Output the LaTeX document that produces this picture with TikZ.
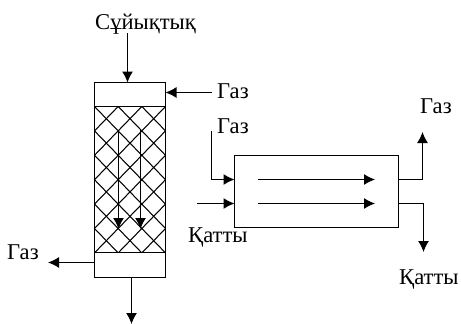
\documentclass[tikz,border=0pt]{standalone}
\usepackage{fontspec}
\setmainfont{Liberation Serif}
\usetikzlibrary{arrows.meta}
\tikzset{
  lab/.style={anchor=base west,inner sep=0pt,font=\fontsize{22.6}{24}\selectfont,text=black},
  box/.style={draw,line width=1.1pt,inner sep=0pt,outer sep=0pt,minimum width=#1},
  flow/.style={draw,line width=1.1pt,-{Latex[length=11pt,width=11pt]}},
  hatch/.style={draw,line width=1.05pt}
}
\begin{document}
\begin{tikzpicture}[x=1pt,y=-1pt]
\useasboundingbox (0,0) rectangle (461,324);
% column
\begin{scope}
\clip (94.5,106.5) rectangle (165.5,252.5);
\foreach \i in {-6,...,2}{
  \draw[hatch] ({94.5+23.67*\i},106.5) -- ({94.5+23.67*(\i+6)},252.9);
  \draw[hatch] ({165.5-23.67*\i},106.5) -- ({165.5-23.67*(\i+6)},252.9);
}
\end{scope}
\node[box=71pt,minimum height=146pt,anchor=north west] (col) at (94.5,106.5) {};
\node[box=71pt,minimum height=24pt,anchor=north west] (top) at (94.5,82.5) {};
\node[box=71pt,minimum height=25pt,anchor=north west] (bot) at (94.5,252.5) {};
% reactor
\node[box=164pt,minimum height=72pt,anchor=north west] (reac) at (234.5,155.5) {};
% labels
\node[lab] (liq) at (95,29) {Сұйықтық};
\node[lab] (g1) at (217,98) {Газ};
\node[lab] (g2) at (217,133) {Газ};
\node[lab] (g3) at (420,113) {Газ};
\node[lab] (g4) at (7,259) {Газ};
\node[lab] (k1) at (188,242) {Қатты};
\node[lab] (k2) at (399,284) {Қатты};
% free ends
\coordinate (a1) at (127.5,33);
\coordinate (a2) at (127.5,82.5);
\coordinate (b1) at (212,92.5);
\coordinate (b2) at (165.5,92.5);
\coordinate (c1) at (118.5,130);
\coordinate (c2) at (118.5,229);
\coordinate (d1) at (140.5,130);
\coordinate (d2) at (140.5,229);
\coordinate (e1) at (131.5,277.5);
\coordinate (e2) at (131.5,324);
\coordinate (f1) at (94.5,262.5);
\coordinate (f2) at (48,262.5);
\coordinate (h1) at (211.5,131);
\coordinate (h2) at (211.5,179.5);
\coordinate (h3) at (234.5,179.5);
\coordinate (i1) at (197,203.5);
\coordinate (i2) at (234.5,203.5);
\coordinate (j1) at (258,179.5);
\coordinate (j2) at (375,179.5);
\coordinate (l1) at (258,203.5);
\coordinate (l2) at (375,203.5);
\coordinate (m1) at (398.5,179.5);
\coordinate (m2) at (422.5,179.5);
\coordinate (m3) at (422.5,132);
\coordinate (n1) at (398.5,203.5);
\coordinate (n2) at (423.5,203.5);
\coordinate (n3) at (423.5,252);
% connectors
\draw[flow] (a1) -- (a2);
\draw[flow] (b1) -- (b2);
\draw[flow] (c1) -- (c2);
\draw[flow] (d1) -- (d2);
\draw[flow] (e1) -- (e2);
\draw[flow] (f1) -- (f2);
\draw[flow] (h1) -- (h2) -- (h3);
\draw[flow] (i1) -- (i2);
\draw[flow] (j1) -- (j2);
\draw[flow] (l1) -- (l2);
\draw[flow] (m1) -- (m2) -- (m3);
\draw[flow] (n1) -- (n2) -- (n3);
\end{tikzpicture}
\end{document}
